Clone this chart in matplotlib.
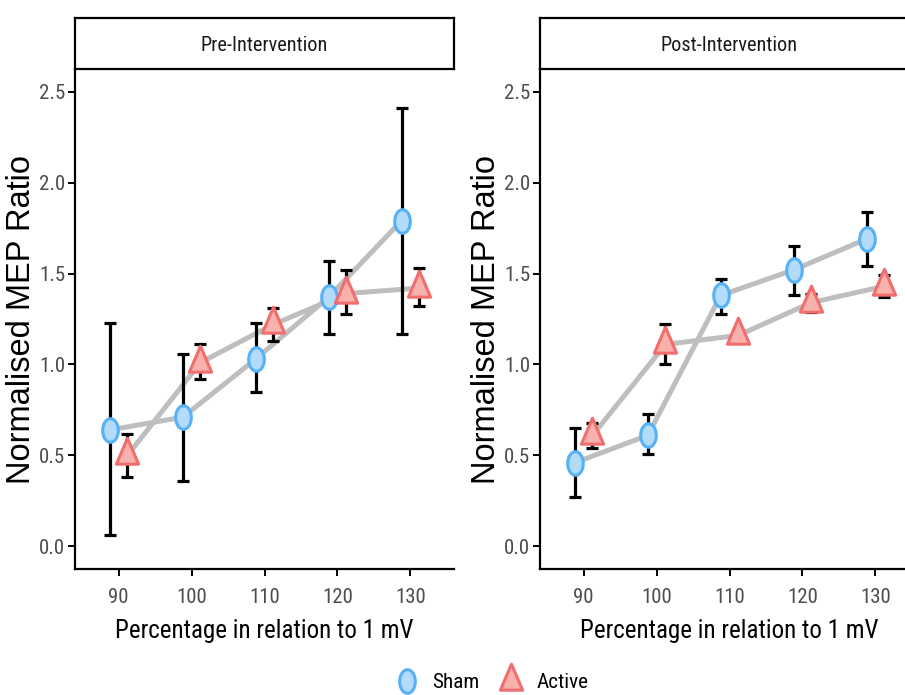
import numpy as np
import matplotlib.pyplot as plt
from matplotlib.path import Path
from matplotlib.lines import Line2D

# stimulation intensity levels (% of 1 mV threshold)
levels = [90, 100, 110, 120, 130]
panels = ['Pre-Intervention', 'Post-Intervention']

# Pre-intervention
pre_sham = [0.64, 0.71, 1.03, 1.37, 1.79]
pre_sham_lo = [0.06, 0.36, 0.85, 1.17, 1.17]
pre_sham_hi = [1.23, 1.06, 1.23, 1.57, 2.41]
pre_active = [0.50, 1.01, 1.22, 1.39, 1.42]
pre_active_lo = [0.38, 0.92, 1.13, 1.28, 1.32]
pre_active_hi = [0.62, 1.11, 1.31, 1.52, 1.53]

# Post-intervention
post_sham = [0.46, 0.61, 1.38, 1.52, 1.69]
post_sham_lo = [0.27, 0.51, 1.28, 1.38, 1.54]
post_sham_hi = [0.65, 0.73, 1.47, 1.65, 1.84]
post_active = [0.61, 1.11, 1.16, 1.34, 1.43]
post_active_lo = [0.54, 1.00, 1.13, 1.29, 1.37]
post_active_hi = [0.68, 1.22, 1.19, 1.39, 1.49]

plt.rcParams['font.family'] = ['Roboto Condensed', 'Liberation Sans', 'DejaVu Sans']

sham_fill, sham_edge = '#B3DCFA', '#56B1F7'
act_fill, act_edge = '#F9B1AC', '#F26D6D'

# markers look squeezed horizontally in the reference
t = np.linspace(0, 2 * np.pi, 60)
ellipse = Path(np.column_stack([0.66 * np.cos(t), np.sin(t)]), closed=True)
tri = Path([(0, 1), (0.64, -0.5), (-0.64, -0.5), (0, 1)], closed=True)

fig = plt.figure(figsize=(9.05, 6.95), dpi=100)
W, H = 905, 695


def px_axes(x0, y0, x1, y1):
    return fig.add_axes([x0 / W, 1 - y1 / H, (x1 - x0) / W, (y1 - y0) / H])


data = [
    (pre_sham, pre_sham_lo, pre_sham_hi, pre_active, pre_active_lo, pre_active_hi),
    (post_sham, post_sham_lo, post_sham_hi, post_active, post_active_lo, post_active_hi),
]
lefts = [75, 540]
dodge = 1.2
xs = np.array(levels, dtype=float)

for i, (title, d) in enumerate(zip(panels, data)):
    s, s_lo, s_hi, a, a_lo, a_hi = [np.array(v) for v in d]
    x0 = lefts[i]
    ax = px_axes(x0, 69, x0 + 379, 569)
    strip = px_axes(x0, 18, x0 + 379, 69)

    ax.plot(xs - dodge, s, color='#BEBEBE', lw=3.6, zorder=1, solid_capstyle='butt')
    ax.plot(xs + dodge, a, color='#BEBEBE', lw=3.6, zorder=1, solid_capstyle='butt')
    ax.errorbar(xs - dodge, s, yerr=[s - s_lo, s_hi - s], fmt='none', ecolor='black',
                elinewidth=2.3, capsize=4, capthick=2.3, zorder=2)
    ax.errorbar(xs + dodge, a, yerr=[a - a_lo, a_hi - a], fmt='none', ecolor='black',
                elinewidth=2.3, capsize=4, capthick=2.3, zorder=2)
    ax.plot(xs - dodge, s, ls='none', marker=ellipse, ms=17, mfc=sham_fill,
            mec=sham_edge, mew=2.2, zorder=3)
    ax.plot(xs + dodge, a, ls='none', marker=tri, ms=25, mfc=act_fill,
            mec=act_edge, mew=2.2, zorder=3)

    ax.set_xlim(84, 136)
    ax.set_ylim(-0.125, 2.625)
    ax.set_xticks(levels)
    ax.set_yticks([0.0, 0.5, 1.0, 1.5, 2.0, 2.5])
    ax.set_yticklabels(['0.0', '0.5', '1.0', '1.5', '2.0', '2.5'])
    ax.tick_params(labelsize=15, labelcolor='#4D4D4D', length=5, width=1.4)
    ax.tick_params(axis='x', pad=9)
    ax.tick_params(axis='y', pad=2)
    for sp in ['top', 'right']:
        ax.spines[sp].set_visible(False)
    for sp in ['left', 'bottom']:
        ax.spines[sp].set_linewidth(1.6)
    ax.set_xlabel('Percentage in relation to 1 mV', fontsize=18, labelpad=8.5)
    ax.set_ylabel('Normalised MEP Ratio', fontsize=23.5, family='Liberation Sans')
    ax.yaxis.set_label_coords(-0.10, 0.5)

    strip.set_xticks([])
    strip.set_yticks([])
    for sp in strip.spines.values():
        sp.set_linewidth(1.6)
    strip.text(0.5, 0.47, title, ha='center', va='center', fontsize=14.6, color='#1A1A1A',
               transform=strip.transAxes)

handles = [
    Line2D([], [], ls='none', marker=ellipse, ms=17, mfc=sham_fill, mec=sham_edge, mew=2.2),
    Line2D([], [], ls='none', marker=tri, ms=25, mfc=act_fill, mec=act_edge, mew=2.2),
]
fig.legend(handles, ['Sham', 'Active'], loc='center', bbox_to_anchor=(490 / W, 1 - 683 / H),
           ncol=2, frameon=False, fontsize=15.2, handletextpad=0.5, columnspacing=0.8,
           handlelength=1.4)

plt.savefig('out.png', dpi=100)
